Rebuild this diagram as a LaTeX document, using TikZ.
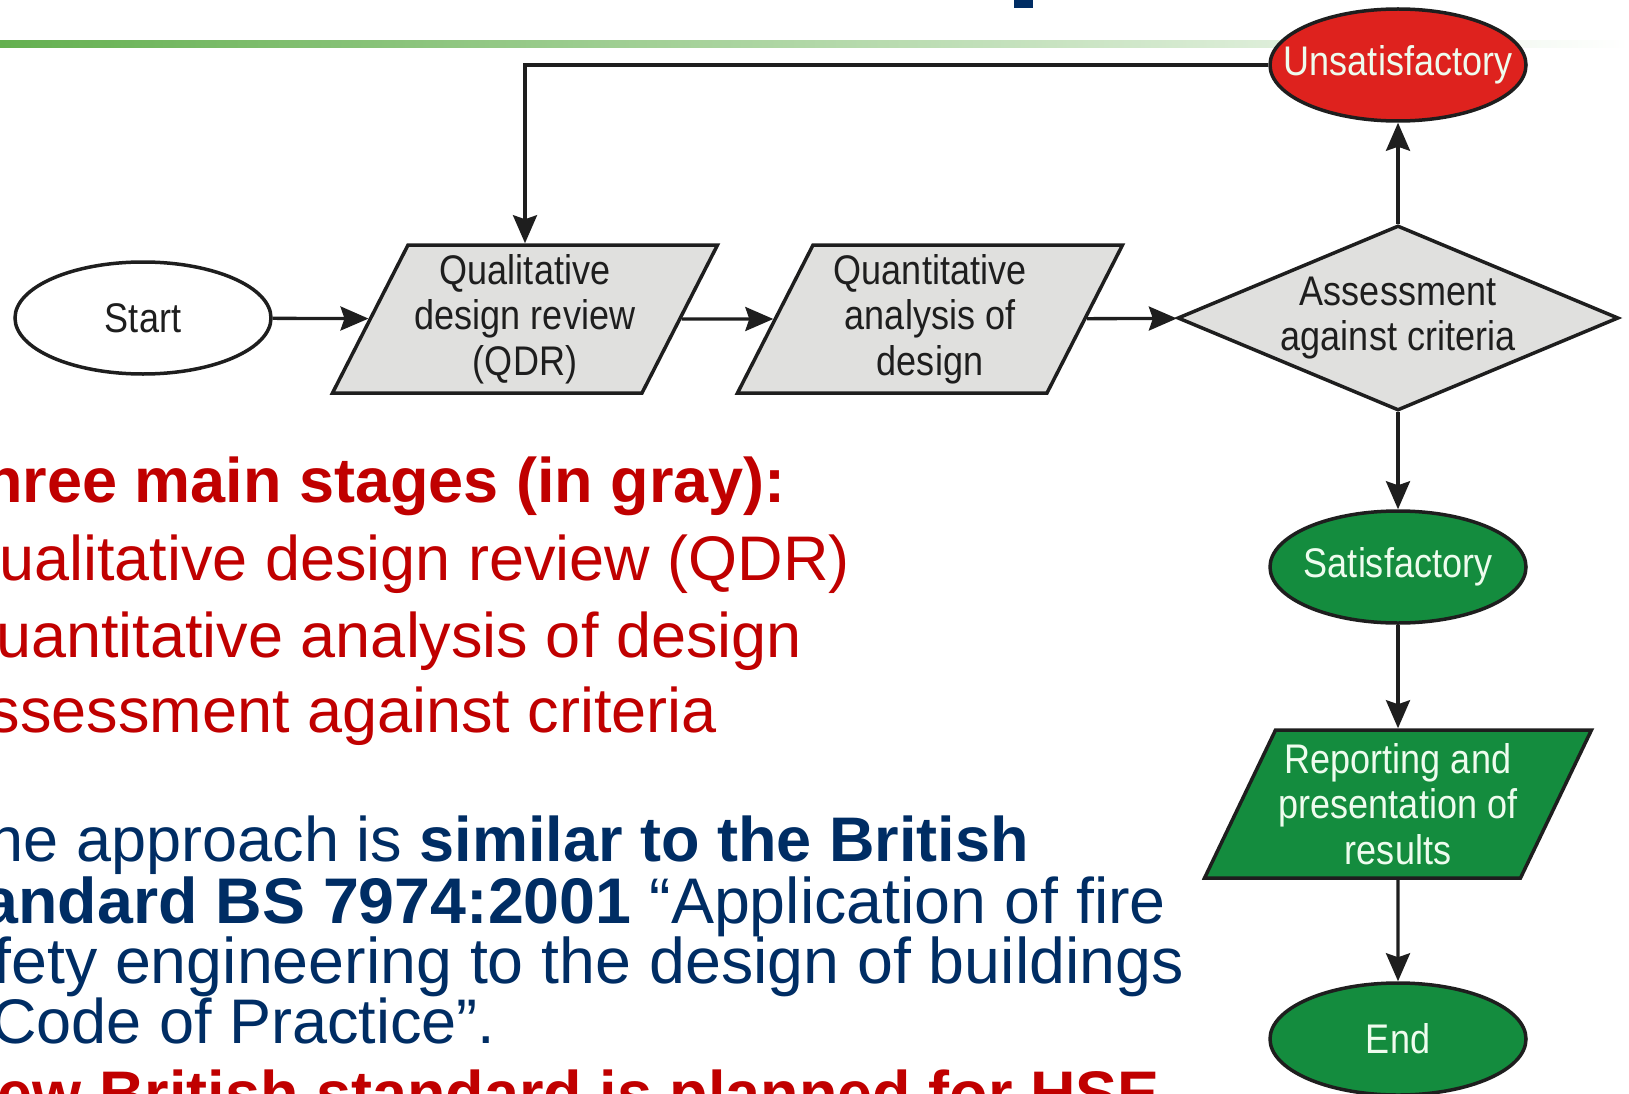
\documentclass[tikz,border=0pt]{standalone}
\usepackage{fontspec}
\setmainfont{Liberation Sans}
\newfontfamily\chartfont[FakeStretch=0.87]{Liberation Sans}
\usetikzlibrary{shapes.geometric,arrows.meta}

\definecolor{slidered}{RGB}{192,0,0}
\definecolor{slideblue}{RGB}{0,45,100}
\definecolor{rulegreen}{RGB}{100,176,80}
\definecolor{stagegray}{RGB}{224,224,222}
\definecolor{failred}{RGB}{222,34,30}
\definecolor{passgreen}{RGB}{20,140,62}
\definecolor{outline}{RGB}{30,30,30}
\definecolor{paletext}{RGB}{238,252,238}

\tikzset{
  chart/.style={font=\chartfont\fontsize{41.4}{45.5}\selectfont},
  term/.style={chart, ellipse, draw=outline, line width=3.5pt, minimum width=256pt, minimum height=112pt, inner sep=0pt, text=paletext},
  stage/.style={chart, trapezium, trapezium left angle=61, trapezium right angle=119, trapezium stretches body, draw=outline, line width=3.5pt, fill=stagegray, minimum width=385pt, minimum height=148pt, align=center, text=outline},
  check/.style={chart, diamond, aspect=2.4, draw=outline, line width=3.5pt, fill=stagegray, minimum width=441pt, minimum height=185pt, inner sep=0pt, align=center, text=outline},
  link/.style={line width=3.3pt, draw=outline, -{Stealth[length=28pt,width=24pt,inset=4pt]}},
  slide/.style={inner sep=0pt, font=\fontsize{63}{77}\selectfont},
  note/.style={inner sep=0pt, font=\fontsize{64.5}{61}\selectfont, text=slideblue},
}

\begin{document}
\begin{tikzpicture}[x=1pt,y=1pt,yscale=-1]
\useasboundingbox (0,0) rectangle (1629,1094);
\clip (0,0) rectangle (1629,1094);

% title rule and the bit of heading above it
\shade[left color=rulegreen, right color=white] (0,41) rectangle (1629,48);
\fill[slideblue] (1014,0) rectangle (1033,8);

% flow chart
\node (start) [term, text=outline] at (143,318) {\makebox[0pt]{Start}};
\node (qdr) [stage] at (525,319) {Qualitative\\design review\\(QDR)};
\node (quant) [stage] at (930,319) {Quantitative\\analysis of\\design};
\node (check) [check] at (1398,318) {Assessment\\against criteria};
\node (unsat) [term, fill=failred] at (1398,65) {\makebox[0pt]{Unsatisfactory}};
\node (sat) [term, fill=passgreen] at (1398,567) {\makebox[0pt]{Satisfactory}};
\node (report) [stage, fill=passgreen, text=paletext] at (1398,804) {Reporting and\\presentation of\\results};
\node (end) [term, fill=passgreen] at (1398,1039) {\makebox[0pt]{End}};

\draw[link] (start) -- (qdr);
\draw[link] (qdr) -- (quant);
\draw[link] (quant) -- (check);
\draw[link] (check) -- (unsat);
\draw[link] (unsat) -| (qdr);
\draw[link] (check) -- (sat);
\draw[link] (sat) -- (report);
\draw[link] (report) -- (end);

% slide text
\node (stages) [slide, anchor=base east, text=slidered, font=\fontsize{63}{77}\selectfont\bfseries] at (786,502) {Three main stages (in gray):};
\node (item1) [slide, anchor=base east, text=slidered] at (850,580) {Qualitative design review (QDR)};
\node (item2) [slide, anchor=base east, text=slidered] at (802,657) {Quantitative analysis of design};
\node (item3) [slide, anchor=base east, text=slidered] at (717,732) {Assessment against criteria};

\node (bs1) [note, anchor=base east, font=\fontsize{63}{61}\selectfont] at (1029,861) {The approach is \textbf{similar to the British}};
\node (bs2) [note, anchor=base east] at (1166,923) {\textbf{Standard BS 7974:2001} “Application of fire};
\node (bs3) [note, anchor=base east] at (1184,983) {safety engineering to the design of buildings};
\node (bs4) [note, anchor=base west, font=\fontsize{63}{61}\selectfont] at (-9,1043) {Code of Practice”.};

\node (plan) [slide, anchor=base east, text=slidered, font=\fontsize{63}{77}\selectfont\bfseries] at (1160,1115) {New British standard is planned for HSE};

\end{tikzpicture}
\end{document}
